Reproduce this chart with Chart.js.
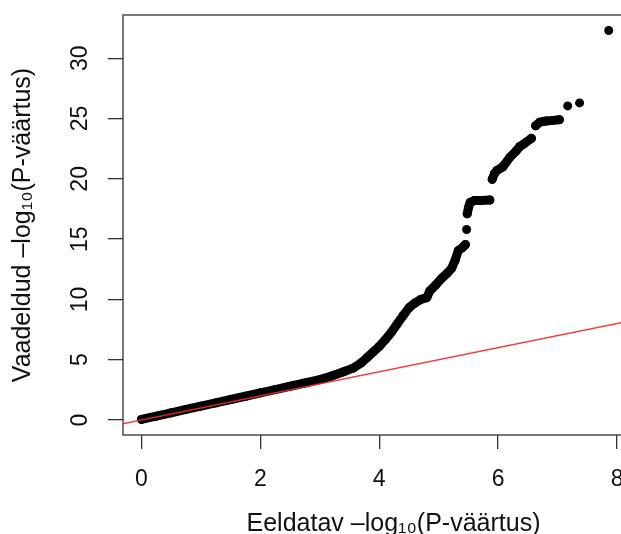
<!DOCTYPE html>
<html>
<head>
<meta charset="utf-8">
<script src="https://cdn.jsdelivr.net/npm/chart.js@4/dist/chart.umd.min.js"></script>
<style>
    html, body { margin: 0; padding: 0; background: #fff; }
    #wrap { width: 621px; height: 534px; overflow: hidden; position: relative; }
</style>
</head>
<body>
<div id="wrap"><canvas id="qq" width="680" height="545"></canvas></div>
<script>
// Axis ticks and titles
const xTicks = [0, 2, 4, 6, 8];
const yTicks = [0, 5, 10, 15, 20, 25, 30];
const xTitle = 'Eeldatav –log₁₀(P-väärtus)';
const yTitle = 'Vaadeldud –log₁₀(P-väärtus)';

// Reference line y = x
const refLineX = [-1, 10];
const refLineY = [-1, 10];

// Main band of points (expected vs observed)
const bandX = [0.0, 0.25, 0.5, 0.75, 1.0, 1.25, 1.5, 1.75, 2.0, 2.25, 2.5, 2.75, 3.0, 3.2, 3.4, 3.56, 3.7, 3.8, 3.9, 4.0,
    4.1, 4.2, 4.3, 4.4, 4.5, 4.6, 4.7, 4.8, 4.85, 4.95, 5.05, 5.15, 5.22, 5.28, 5.33, 5.4, 5.45];
const bandY = [0.05, 0.32, 0.6, 0.88, 1.15, 1.42, 1.7, 1.97, 2.25, 2.52, 2.8, 3.07, 3.35, 3.65, 4.0, 4.3, 4.75, 5.2, 5.65, 6.1,
    6.65, 7.25, 7.95, 8.65, 9.3, 9.7, 10.0, 10.15, 10.7, 11.2, 11.75, 12.2, 12.6, 13.3, 14.05, 14.3, 14.55];

// Plateau around 18
const plateauX = [5.48, 5.5, 5.53, 5.6, 5.72, 5.86];
const plateauY = [17.1, 17.6, 18.05, 18.2, 18.2, 18.25];

// Upper run 20..23.4
const upperX = [5.9, 5.94, 5.98, 6.08, 6.2, 6.3, 6.36, 6.46, 6.56];
const upperY = [19.96, 20.45, 20.7, 21.0, 21.8, 22.3, 22.66, 23.0, 23.36];

// Short run near 25
const topRunX = [6.63, 6.7, 6.81, 6.92, 7.03];
const topRunY = [24.4, 24.7, 24.8, 24.85, 24.9];

// Isolated points
const singleX = [5.47, 7.17, 7.37, 7.86];
const singleY = [15.8, 26.05, 26.3, 32.3];

const FONT = '"Liberation Sans", Arial, Helvetica, sans-serif';
const CANVAS_H = 545;
const AREA_LEFT = 123;
const AREA_BOTTOM = 435;

function toPoints(xs, ys) {
    return xs.map((x, i) => ({ x: x, y: ys[i] }));
}

function runDataset(xs, ys) {
    return {
        data: toPoints(xs, ys),
        showLine: true,
        borderColor: '#000',
        borderWidth: 9,
        borderCapStyle: 'round',
        borderJoinStyle: 'round',
        pointRadius: 4.5,
        pointBorderWidth: 0,
        pointBackgroundColor: '#000',
        tension: 0,
        order: 1
    };
}

function noPadding(s) {
    s.paddingTop = 0;
    s.paddingBottom = 0;
    s.paddingLeft = 0;
    s.paddingRight = 0;
}

// Box around the plot region
const boxPlugin = {
    id: 'box',
    beforeDatasetsDraw(chart) {
        const { ctx, chartArea: a } = chart;
        ctx.save();
        ctx.strokeStyle = '#333';
        ctx.lineWidth = 1.3;
        ctx.strokeRect(a.left, a.top, a.right - a.left, a.bottom - a.top);
        ctx.restore();
    }
};

const ctx = document.getElementById('qq').getContext('2d');
new Chart(ctx, {
    type: 'scatter',
    data: {
        datasets: [
            {
                data: toPoints(refLineX, refLineY),
                showLine: true,
                borderColor: 'rgba(238, 40, 40, 0.9)',
                borderWidth: 1.4,
                pointRadius: 0,
                order: 0
            },
            runDataset(bandX, bandY),
            runDataset(plateauX, plateauY),
            runDataset(upperX, upperY),
            runDataset(topRunX, topRunY),
            {
                data: toPoints(singleX, singleY),
                pointRadius: 4.5,
                pointBorderWidth: 0,
                pointBackgroundColor: '#000',
                order: 1
            }
        ]
    },
    options: {
        responsive: false,
        animation: false,
        layout: { padding: { top: 15, left: 0, right: 680 - 664, bottom: 0 } },
        plugins: {
            legend: { display: false },
            tooltip: { enabled: false }
        },
        scales: {
            x: {
                type: 'linear',
                min: -0.31,
                max: 8.79,
                afterBuildTicks: (s) => { s.ticks = xTicks.map(v => ({ value: v })); },
                afterFit: (s) => { s.height = CANVAS_H - AREA_BOTTOM; noPadding(s); },
                border: { display: false },
                grid: { drawOnChartArea: false, drawTicks: true, tickLength: 14, tickColor: '#333', lineWidth: 1.3 },
                ticks: {
                    color: '#111',
                    padding: 17,
                    minRotation: 0,
                    maxRotation: 0,
                    font: { family: FONT, size: 23 },
                    callback: (v) => String(v)
                },
                title: {
                    display: true,
                    text: xTitle,
                    color: '#111',
                    font: { family: FONT, size: 25 },
                    padding: { top: 0, bottom: 6 }
                }
            },
            y: {
                type: 'linear',
                min: -1.244,
                max: 33.59,
                afterBuildTicks: (s) => { s.ticks = yTicks.map(v => ({ value: v })); },
                afterFit: (s) => { s.width = AREA_LEFT; noPadding(s); },
                border: { display: false },
                grid: { drawOnChartArea: false, drawTicks: true, tickLength: 15, tickColor: '#333', lineWidth: 1.3 },
                ticks: {
                    color: '#111',
                    padding: 15,
                    minRotation: 90,
                    maxRotation: 90,
                    crossAlign: 'center',
                    font: { family: FONT, size: 23 },
                    callback: (v) => String(v)
                },
                title: {
                    display: true,
                    text: yTitle,
                    color: '#111',
                    font: { family: FONT, size: 25 },
                    padding: { top: 8, bottom: 0 }
                }
            }
        }
    },
    plugins: [boxPlugin]
});
</script>
</body>
</html>
